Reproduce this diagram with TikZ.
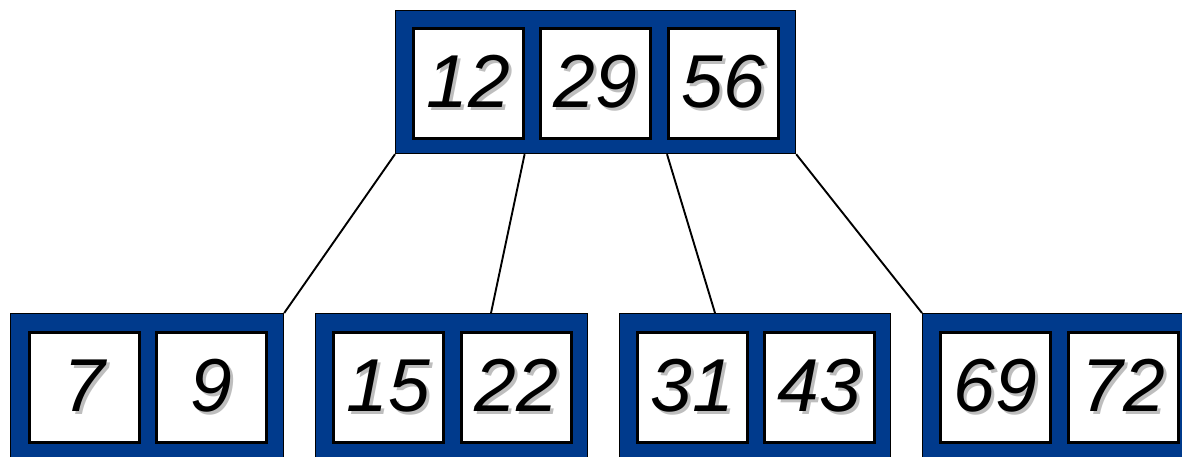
\documentclass[tikz,border=0pt]{standalone}
\usepackage{fontspec}
\setmainfont{Liberation Sans}
\usetikzlibrary{positioning}

\definecolor{nodeblue}{RGB}{0,58,140}
\definecolor{keyshadow}{RGB}{190,190,190}

% key text with a grey drop shadow
\newcommand{\keytxt}[1]{\makebox[0pt][l]{\hspace{3pt}\raisebox{-3pt}{\color{keyshadow}#1}}#1}

\tikzset{
    bnode/.style={draw=black, line width=1.2pt, fill=nodeblue, inner sep=0pt, anchor=north west},
    keybox/.style={draw=black, line width=2.6pt, fill=white, inner sep=0pt,
        minimum width=110pt, minimum height=110pt, anchor=north west,
        font=\fontsize{75}{75}\selectfont\itshape},
    link/.style={line width=1.9pt}
}

\begin{document}
\begin{tikzpicture}[x=1pt, y=-1pt]
    \useasboundingbox (0,0) rectangle (1182,456);

    % root
    \node[bnode, minimum width=400pt, minimum height=143pt] (root) at (395,10) {};
    \node[keybox] (k12) at (412,27) {\keytxt{12}};
    \node[keybox] (k29) at (539,27) {\keytxt{29}};
    \node[keybox] (k56) at (667,27) {\keytxt{56}};

    % leaves
    \node[bnode, minimum width=273pt, minimum height=146pt] (leafA) at (10,313) {};
    \node[keybox] (k7)  at (28,331)  {\keytxt{7}};
    \node[keybox] (k9)  at (155,331) {\keytxt{9}};

    \node[bnode, minimum width=272pt, minimum height=146pt] (leafB) at (315,313) {};
    \node[keybox] (k15) at (332,331) {\keytxt{15}};
    \node[keybox] (k22) at (460,331) {\keytxt{22}};

    \node[bnode, minimum width=271pt, minimum height=146pt] (leafC) at (619,313) {};
    \node[keybox] (k31) at (636,331) {\keytxt{31}};
    \node[keybox] (k43) at (763,331) {\keytxt{43}};

    \node[bnode, minimum width=273pt, minimum height=146pt] (leafD) at (922,313) {};
    \node[keybox] (k69) at (939,331)  {\keytxt{69}};
    \node[keybox] (k72) at (1067,331) {\keytxt{72}};

    % child pointers
    \coordinate (pB) at (491,313);
    \coordinate (pC) at (715,313);

    \draw[link] (root.south west) -- (leafA.north east);
    \draw[link] (k12.east |- root.south) -- (pB);
    \draw[link] (k56.west |- root.south) -- (pC);
    \draw[link] (root.south east) -- (leafD.north west);
\end{tikzpicture}
\end{document}
